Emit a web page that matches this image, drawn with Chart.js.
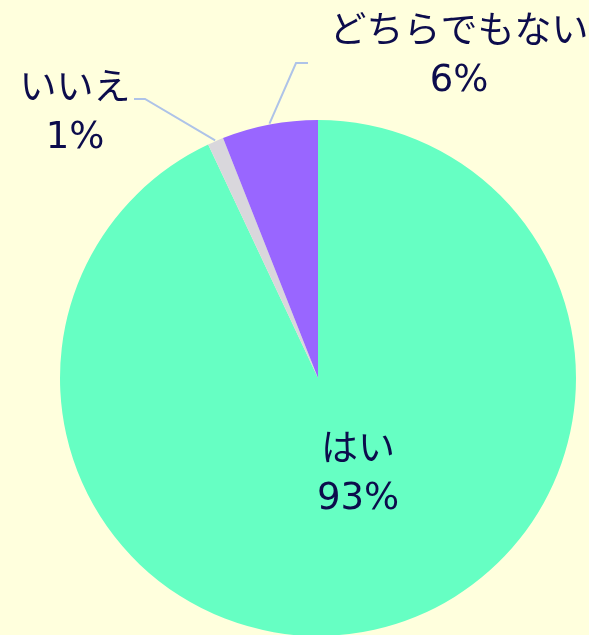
<!DOCTYPE html>
<html>
<head>
<meta charset="utf-8">
<script src="https://cdn.jsdelivr.net/npm/chart.js@4/dist/chart.umd.min.js"></script>
<style>
  html, body { margin: 0; padding: 0; background: #ffffdd; overflow: hidden; }
  #wrap { position: relative; width: 589px; height: 640px; }
</style>
</head>
<body>
<div id="wrap"><canvas id="myChart"></canvas></div>
<script>
// 回答データ
var labels = ['はい', 'いいえ', 'どちらでもない'];
var values = [93, 1, 6];
var colors = ['#66ffc3', '#d9d7dc', '#9966ff'];

// ラベル位置 (文字の中心) と引き出し線の曲がり角
var labelPos = [
    { x: 358, y: 475, line: null },
    { x: 75, y: 114, line: { bx: 145, by: 99, ex: 134 } },
    { x: 459, y: 57, line: { bx: 296, by: 63, ex: 308 } }
];

var labelPlugin = {
    id: 'pieLabels',
    afterDatasetsDraw: function(chart) {
        var ctx = chart.ctx;
        var meta = chart.getDatasetMeta(0);
        var total = values.reduce(function(a, b) { return a + b; }, 0);
        ctx.save();
        meta.data.forEach(function(arc, i) {
            var p = labelPos[i];
            if (p.line) {
                var mid = (arc.startAngle + arc.endAngle) / 2;
                var r = arc.outerRadius + 1;
                ctx.beginPath();
                ctx.strokeStyle = '#aec3e8';
                ctx.lineWidth = 2;
                ctx.moveTo(arc.x + Math.cos(mid) * r, arc.y + Math.sin(mid) * r);
                ctx.lineTo(p.line.bx, p.line.by);
                ctx.lineTo(p.line.ex, p.line.by);
                ctx.stroke();
            }
            ctx.fillStyle = '#0c0c4c';
            ctx.font = '37px "DejaVu Sans", "Noto Sans CJK JP", sans-serif';
            ctx.textAlign = 'center';
            ctx.textBaseline = 'middle';
            ctx.fillText(labels[i], p.x, p.y - 24);
            ctx.fillText(Math.round(values[i] / total * 100) + '%', p.x, p.y + 24);
        });
        ctx.restore();
    }
};

var ctx1 = document.getElementById('myChart').getContext('2d');
var myChart = new Chart(ctx1, {
    type: 'pie',
    data: {
        labels: labels,
        datasets: [{
            data: values,
            backgroundColor: colors,
            borderWidth: 0
        }]
    },
    options: {
        responsive: true,
        maintainAspectRatio: false,
        animation: false,
        layout: {
            padding: { top: 120, bottom: 4, left: 60, right: 13 }
        },
        plugins: {
            legend: { display: false },
            tooltip: { enabled: false }
        }
    },
    plugins: [labelPlugin]
});
</script>
</body>
</html>
